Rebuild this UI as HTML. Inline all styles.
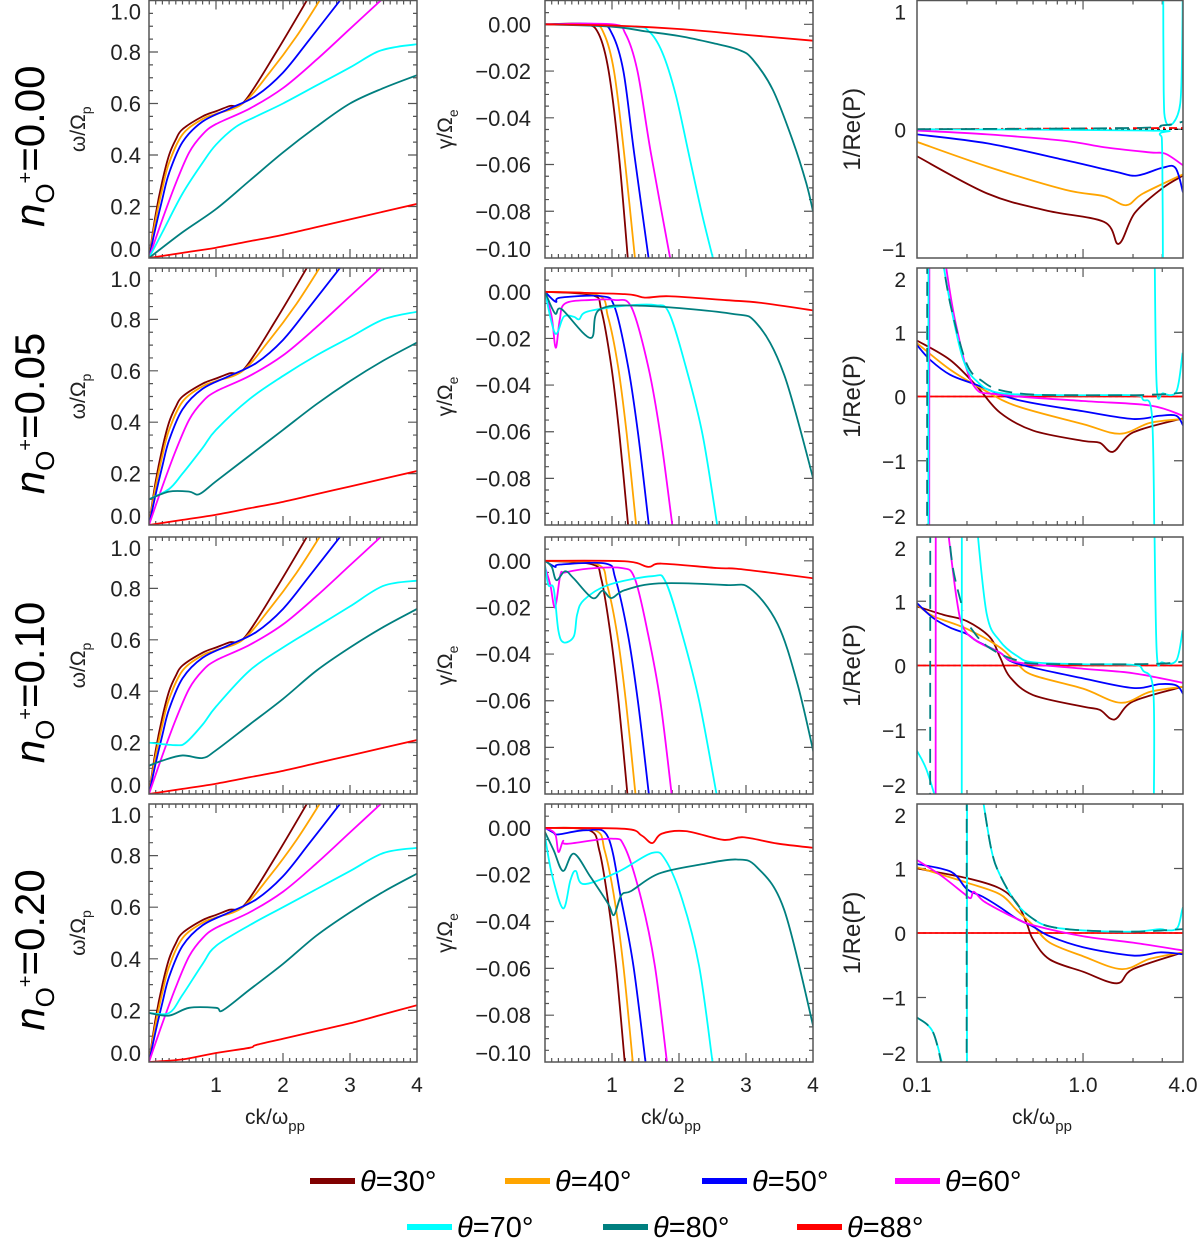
<!DOCTYPE html>
<html><head><meta charset="utf-8"><style>
html,body{margin:0;padding:0;background:#fff;}
svg{display:block;font-family:"Liberation Sans",sans-serif;}
</style></head><body>
<svg id="fig" width="1200" height="1240" viewBox="0 0 1200 1240" xmlns="http://www.w3.org/2000/svg"></svg>
<script>
// ---------- DATA ----------
const seriesLabels = ['θ=30°','θ=40°','θ=50°','θ=60°','θ=70°','θ=80°','θ=88°'];
const rowLabels = ['0.00','0.05','0.10','0.20'];
const colors = ['#800000','#ffa500','#0000ff','#ff00ff','#00ffff','#007f7f','#ff0000'];

// omega / Omega_p  (col 1), rows n=0.00,0.05,0.10,0.20 ; [k, value]
const omegaBrown = [[0,0],[0.1,0.17],[0.2,0.3],[0.3,0.4],[0.4,0.46],[0.5,0.5],[0.8,0.55],[1.0,0.57],[1.2,0.59],[1.43,0.61],[1.9,0.8],[2.4,1.02]];
const omegaOrange = [[0,0],[0.1,0.15],[0.2,0.27],[0.3,0.37],[0.5,0.48],[0.8,0.54],[1.0,0.56],[1.4,0.6],[1.8,0.72],[2.2,0.86],[2.57,1.01]];
const omegaBlue = [[0,0],[0.1,0.12],[0.2,0.23],[0.3,0.33],[0.5,0.45],[0.8,0.53],[1.2,0.58],[1.6,0.63],[2.0,0.72],[2.4,0.85],[2.88,1.01]];
const omegaMagenta = [[0,0],[0.2,0.15],[0.4,0.29],[0.6,0.41],[0.8,0.48],[1.0,0.52],[1.5,0.58],[2.0,0.66],[2.5,0.77],[3.0,0.89],[3.5,1.01]];
const omegaRed = [[0,0],[0.5,0.02],[1.0,0.04],[1.5,0.065],[2.0,0.09],[2.5,0.12],[3.0,0.15],[3.5,0.18],[4.0,0.21]];
const omegaRed4 = [[0,0],[0.5,0.01],[1.0,0.035],[1.5,0.055],[1.6,0.066],[2.0,0.09],[2.5,0.12],[3.0,0.15],[3.5,0.185],[4.0,0.22]];
const omegaCyan1 = [[0,0],[0.2,0.1],[0.5,0.25],[0.8,0.37],[1.0,0.44],[1.3,0.51],[1.6,0.55],[2.0,0.6],[2.5,0.67],[3.0,0.74],[3.4,0.8],[3.7,0.82],[4.0,0.83]];
const omegaCyan2 = [[0,0.1],[0.3,0.14],[0.5,0.2],[0.8,0.3],[1.0,0.37],[1.5,0.49],[2.0,0.58],[2.5,0.66],[3.0,0.73],[3.5,0.8],[4.0,0.83]];
const omegaCyan3 = [[0,0.2],[0.4,0.19],[0.55,0.2],[0.8,0.27],[1.0,0.34],[1.5,0.48],[2.0,0.57],[2.5,0.65],[3.0,0.73],[3.5,0.81],[4.0,0.83]];
const omegaCyan4 = [[0,0.19],[0.3,0.19],[0.5,0.26],[0.8,0.38],[1.0,0.45],[1.5,0.53],[2.0,0.6],[2.5,0.67],[3.0,0.74],[3.5,0.81],[4.0,0.83]];
const omegaTeal1 = [[0,0],[0.5,0.1],[1.0,0.19],[1.5,0.3],[2.0,0.41],[2.5,0.51],[3.0,0.6],[3.5,0.66],[4.0,0.71]];
const omegaTeal2 = [[0,0.1],[0.3,0.13],[0.6,0.13],[0.75,0.12],[1.0,0.17],[1.5,0.27],[2.0,0.37],[2.5,0.47],[3.0,0.56],[3.5,0.64],[4.0,0.71]];
const omegaTeal3 = [[0,0.11],[0.2,0.13],[0.5,0.15],[0.8,0.14],[1.0,0.17],[1.5,0.27],[2.0,0.37],[2.5,0.48],[3.0,0.57],[3.5,0.65],[4.0,0.72]];
const omegaTeal4 = [[0,0.19],[0.3,0.18],[0.6,0.21],[1.0,0.21],[1.1,0.2],[1.5,0.28],[2.0,0.38],[2.5,0.49],[3.0,0.58],[3.5,0.66],[4.0,0.73]];

// gamma / Omega_e (col 2)
const gammaRow1 = [
 [[0,0],[0.6,0],[0.8,-0.004],[0.95,-0.02],[1.1,-0.055],[1.25,-0.105]],
 [[0,0],[0.7,0],[0.88,-0.004],[1.03,-0.02],[1.18,-0.055],[1.36,-0.105]],
 [[0,0],[0.8,0],[1.0,-0.004],[1.17,-0.02],[1.33,-0.055],[1.57,-0.105]],
 [[0,0],[1.0,0],[1.2,-0.004],[1.38,-0.02],[1.58,-0.055],[1.9,-0.105]],
 [[0,0],[1.3,-0.001],[1.55,-0.003],[1.75,-0.012],[1.95,-0.03],[2.15,-0.056],[2.35,-0.082],[2.55,-0.105]],
 [[0,0],[1.0,-0.001],[1.5,-0.003],[2.0,-0.005],[2.5,-0.008],[2.9,-0.011],[3.1,-0.015],[3.4,-0.028],[3.7,-0.05],[3.9,-0.068],[4.0,-0.08]],
 [[0,0],[1.0,-0.0005],[2.0,-0.002],[3.0,-0.0045],[4.0,-0.007]]
];
const gammaRow2 = [
 [[0,0],[0.71,-0.0015],[0.84,-0.0078],[0.99,-0.032],[1.11,-0.061],[1.24,-0.1]],
 [[0,0],[0.79,-0.0015],[0.94,-0.0107],[1.09,-0.032],[1.22,-0.061],[1.36,-0.1]],
 [[0,0],[0.16,-0.0043],[0.23,-0.0025],[0.84,-0.0019],[1.04,-0.0066],[1.24,-0.032],[1.39,-0.061],[1.55,-0.1]],
 [[0,0],[0.1,-0.0107],[0.16,-0.024],[0.22,-0.012],[0.3,-0.005],[0.68,-0.0035],[1.04,-0.0035],[1.29,-0.0066],[1.54,-0.032],[1.72,-0.061],[1.9,-0.1]],
 [[0,0],[0.15,-0.0178],[0.28,-0.0107],[0.43,-0.0107],[0.51,-0.0118],[0.63,-0.0085],[1.19,-0.006],[1.65,-0.0057],[1.85,-0.009],[2.1,-0.032],[2.35,-0.061],[2.57,-0.1]],
 [[0,0],[0.15,-0.0093],[0.25,-0.0075],[0.68,-0.0198],[0.81,-0.0077],[1.44,-0.006],[2.76,-0.0093],[3.16,-0.0136],[3.57,-0.0356],[4.03,-0.083]],
 [[0,0],[1.19,-0.001],[1.49,-0.0025],[1.85,-0.0019],[2.71,-0.0036],[3.21,-0.0047],[4.03,-0.0081]]
];
const gammaRow3 = [
 [[0,0],[0.7,-0.0015],[0.84,-0.0078],[0.98,-0.032],[1.1,-0.061],[1.23,-0.1]],
 [[0,0],[0.78,-0.0015],[0.93,-0.0107],[1.08,-0.032],[1.21,-0.061],[1.35,-0.1]],
 [[0,0],[0.15,-0.0026],[0.23,-0.0016],[0.91,-0.0012],[1.05,-0.0076],[1.24,-0.032],[1.39,-0.061],[1.55,-0.1]],
 [[0,-0.0026],[0.08,-0.0104],[0.15,-0.02],[0.23,-0.006],[0.3,-0.005],[0.63,-0.0034],[1.14,-0.0031],[1.34,-0.0076],[1.54,-0.0317],[1.72,-0.06],[1.89,-0.1]],
 [[0,-0.002],[0.05,-0.0104],[0.13,-0.012],[0.2,-0.03],[0.28,-0.035],[0.43,-0.0324],[0.48,-0.023],[0.58,-0.0168],[0.94,-0.0104],[1.6,-0.0066],[1.8,-0.009],[2.05,-0.0317],[2.3,-0.06],[2.56,-0.1]],
 [[0,0],[0.1,-0.0026],[0.17,-0.0083],[0.3,-0.0045],[0.43,-0.0076],[0.71,-0.016],[0.86,-0.0128],[0.99,-0.016],[1.19,-0.0126],[1.7,-0.0097],[2.71,-0.0104],[3.06,-0.0118],[3.47,-0.027],[3.77,-0.053],[4.03,-0.085]],
 [[0,0],[1.19,-0.0002],[1.54,-0.0026],[1.74,-0.0012],[2.56,-0.0031],[2.86,-0.0034],[3.47,-0.0055],[4.03,-0.0076]]
];
const gammaRow4 = [
 [[0,0],[0.66,-0.001],[0.81,-0.0096],[0.94,-0.031],[1.06,-0.059],[1.19,-0.1]],
 [[0,0],[0.74,-0.001],[0.89,-0.0096],[1.04,-0.031],[1.17,-0.059],[1.31,-0.1]],
 [[0,0],[0.13,-0.0021],[0.2,-0.0028],[0.63,-0.001],[0.94,-0.0039],[1.14,-0.031],[1.32,-0.059],[1.5,-0.1]],
 [[0,0],[0.15,-0.0025],[0.2,-0.0103],[0.27,-0.0056],[0.33,-0.0068],[0.99,-0.0046],[1.19,-0.0082],[1.44,-0.0308],[1.64,-0.059],[1.82,-0.1]],
 [[0,-0.0035],[0.1,-0.0195],[0.27,-0.0344],[0.38,-0.0223],[0.46,-0.0184],[0.58,-0.024],[1.09,-0.0188],[1.6,-0.0107],[1.8,-0.0138],[2.05,-0.0308],[2.3,-0.059],[2.5,-0.1]],
 [[0,-0.0018],[0.13,-0.0096],[0.27,-0.0184],[0.43,-0.011],[0.68,-0.021],[0.94,-0.0323],[1.03,-0.0372],[1.14,-0.0287],[1.29,-0.0269],[1.7,-0.0195],[2.35,-0.0155],[2.86,-0.0135],[3.16,-0.0167],[3.57,-0.035],[4.03,-0.088]],
 [[0,0],[1.19,-0.0004],[1.44,-0.0032],[1.6,-0.0065],[1.74,-0.0025],[2.1,-0.0014],[2.66,-0.0051],[2.96,-0.004],[3.47,-0.0067],[4.03,-0.0086]]
];

// 1/Re(P) (col 3), log k; null = break
const polRow1 = [
 [[0.1,-0.21],[0.266,-0.5],[0.596,-0.63],[1.34,-0.72],[1.64,-0.89],[2.05,-0.65],[2.99,-0.46],[4.0,-0.36]],
 [[0.1,-0.098],[0.266,-0.29],[0.78,-0.47],[1.34,-0.52],[1.82,-0.59],[2.29,-0.5],[4.0,-0.35]],
 [[0.1,-0.04],[0.266,-0.11],[0.78,-0.24],[1.57,-0.33],[2.11,-0.36],[2.99,-0.3],[3.6,-0.3],[4.0,-0.49]],
 [[0.1,-0.01],[0.266,-0.04],[0.78,-0.09],[1.34,-0.14],[2.54,-0.18],[3.13,-0.19],[4.0,-0.28]],
 [[0.1,0],[2.5,-0.01],[2.9,-0.04],[3.0,-0.2],[3.03,-1.2],null,[3.04,1.2],[3.06,0.3],[3.15,0.06],[3.5,0.05],[3.85,0.2],[3.95,0.6],[3.99,1.2]],
 [[0.1,0],[2.0,0.01],[3.0,0.03],[3.5,0.04],[4.0,0.06]],
 [[0.1,0],[4.0,0.01]]
];
const polRow2 = [
 [[0.1,0.87],[0.158,0.57],[0.229,0.16],[0.316,-0.25],[0.5,-0.53],[1.0,-0.69],[1.26,-0.72],[1.52,-0.86],[2.0,-0.56],[4.0,-0.34]],
 [[0.1,0.83],[0.158,0.42],[0.25,0.11],[0.4,-0.15],[1.0,-0.43],[1.67,-0.58],[2.53,-0.41],[4.0,-0.35]],
 [[0.1,0.8],[0.12,0.57],[0.158,0.34],[0.229,0.18],[0.4,-0.05],[1.0,-0.23],[2.0,-0.35],[2.9,-0.3],[3.65,-0.3],[4.0,-0.45]],
 [[0.1185,-2.2],[0.1187,2.2],null,[0.148,2.2],[0.151,1.95],[0.173,1.08],[0.218,0.18],[0.316,0.03],[1.0,-0.07],[2.53,-0.14],[4.0,-0.3]],
 [[0.117,-2.2],[0.1172,2.2],null,[0.141,2.2],[0.16,1.4],[0.19,0.57],[0.229,0.24],[0.316,0.055],[0.79,0.02],[2.0,0.02],[2.3,-0.05],[2.6,-0.3],[2.69,-2.2],null,[2.7,2.2],[2.78,0.15],[3.03,0.05],[3.65,0.08],[3.98,0.68]],
 [[0.115,-2.2],[0.1152,2.2],null,[0.141,2.2],[0.16,1.4],[0.2,0.5],[0.25,0.23],[0.316,0.1],[0.5,0.03],[1.0,0.02],[2.0,0.02],[2.68,0.03],[3.3,0.04],[4.0,0.06]],
 [[0.1,0],[4.0,0]]
];
const polRow3 = [
 [[0.1,0.92],[0.144,0.79],[0.2,0.69],[0.275,0.44],[0.316,0.13],[0.363,-0.18],[0.5,-0.46],[1.0,-0.64],[1.26,-0.69],[1.55,-0.84],[2.0,-0.56],[4.0,-0.33]],
 [[0.1,0.95],[0.125,0.77],[0.2,0.57],[0.316,0.28],[0.4,0.03],[0.5,-0.15],[1.0,-0.36],[1.69,-0.58],[2.53,-0.41],[4.0,-0.33]],
 [[0.1,0.97],[0.125,0.74],[0.158,0.59],[0.2,0.49],[0.229,0.38],[0.316,0.2],[0.4,0.03],[1.0,-0.2],[2.0,-0.35],[2.9,-0.29],[3.65,-0.31],[4.0,-0.44]],
 [[0.1295,-2.2],[0.1297,2.2],null,[0.152,2.2],[0.173,1.05],[0.19,0.59],[0.229,0.38],[0.316,0.2],[0.4,0.05],[1.0,-0.05],[2.0,-0.12],[4.0,-0.27]],
 [[0.1,-1.33],[0.114,-1.62],[0.134,-2.2],null,[0.186,-2.2],[0.1862,2.2],null,[0.229,2.2],[0.263,0.8],[0.316,0.38],[0.4,0.15],[0.5,0.05],[1.0,0.02],[2.0,0.01],[2.3,-0.08],[2.65,-0.4],[2.67,-2.2],null,[2.69,2.2],[2.78,0.2],[3.0,0.05],[3.65,0.08],[3.98,0.55]],
 [[0.12,-2.2],[0.1202,2.2],null,[0.154,2.2],[0.165,1.5],[0.19,0.85],null,[0.21,0.59],[0.25,0.35],[0.316,0.18],[0.4,0.08],[0.5,0.03],[1.0,0.02],[2.0,0.02],[3.0,0.03],[4.0,0.06]],
 [[0.1,0],[4.0,0]]
];
const polRow4 = [
 [[0.1,1.0],[0.2,0.85],[0.316,0.69],[0.4,0.46],[0.458,0.15],[0.5,-0.1],[0.63,-0.41],[1.0,-0.6],[1.6,-0.78],[2.0,-0.56],[4.0,-0.3]],
 [[0.1,1.02],[0.2,0.78],[0.316,0.6],[0.4,0.35],[0.5,0.12],[0.63,-0.15],[1.0,-0.36],[1.71,-0.56],[2.53,-0.4],[4.0,-0.3]],
 [[0.1,1.07],[0.16,0.95],[0.2,0.68],[0.25,0.56],[0.316,0.4],[0.4,0.22],[0.5,0.1],[0.63,-0.05],[1.0,-0.22],[2.0,-0.35],[2.9,-0.3],[4.0,-0.33]],
 [[0.1,1.13],[0.138,0.9],[0.19,0.62],[0.21,0.54],[0.22,0.64],[0.25,0.5],[0.316,0.35],[0.4,0.22],[0.5,0.12],[1.0,-0.05],[2.0,-0.15],[4.0,-0.27]],
 [[0.1,-1.31],[0.125,-1.54],[0.147,-2.2],null,[0.2,-2.2],[0.2002,2.2],null,[0.245,2.2],[0.28,1.3],[0.316,0.9],[0.4,0.45],[0.5,0.22],[0.63,0.1],[1.0,0.04],[2.0,0.02],[2.9,0.06],[3.2,0.04],[3.7,0.08],[3.95,0.35],[4.0,0.4]],
 [[0.1,-1.31],[0.125,-1.54],[0.145,-2.2],null,[0.199,-2.2],[0.1992,2.2],null,[0.245,2.2],[0.28,1.3],[0.316,0.9],[0.4,0.45],[0.5,0.22],[0.63,0.1],[1.0,0.04],[2.0,0.02],[3.0,0.04],[4.0,0.06]],
 [[0.1,0],[4.0,0]]
];

const omegaRows = [
 [omegaBrown,omegaOrange,omegaBlue,omegaMagenta,omegaCyan1,omegaTeal1,omegaRed],
 [omegaBrown,omegaOrange,omegaBlue,omegaMagenta,omegaCyan2,omegaTeal2,omegaRed],
 [omegaBrown,omegaOrange,omegaBlue,omegaMagenta,omegaCyan3,omegaTeal3,omegaRed],
 [omegaBrown,omegaOrange,omegaBlue,omegaMagenta,omegaCyan4,omegaTeal4,omegaRed4]
];
const gammaRows = [gammaRow1,gammaRow2,gammaRow3,gammaRow4];
const polRows = [polRow1,polRow2,polRow3,polRow4];

const omegaTicks = [0,0.2,0.4,0.6,0.8,1.0];
const omegaTickLabels = ['0.0','0.2','0.4','0.6','0.8','1.0'];
const gammaTicks = [0,-0.02,-0.04,-0.06,-0.08,-0.10];
const gammaTickLabels = ['0.00','\u22120.02','\u22120.04','\u22120.06','\u22120.08','\u22120.10'];
const linXTicks = [1,2,3,4];
const linXTickLabels = ['1','2','3','4'];
const logXTicks = [0.1,1.0,4.0];
const logXTickLabels = ['0.1','1.0','4.0'];

// ---------- LAYOUT ----------
const NS='http://www.w3.org/2000/svg';
const svg=document.getElementById('fig');
const cols=[{x0:149,x1:417},{x0:545,x1:813},{x0:917,x1:1183}];
const rows=[{y0:0.5,y1:258},{y0:268,y1:525},{y0:537,y1:794},{y0:804,y1:1062}];
function el(tag,parent){const e=document.createElementNS(NS,tag);(parent||svg).appendChild(e);return e;}
function attrs(e,o){for(const k in o)e.setAttribute(k,o[k]);return e;}
function smooth(p){
  if(p.length<3) return 'M'+p.map(q=>q[0].toFixed(2)+','+q[1].toFixed(2)).join('L');
  let d='M'+p[0][0].toFixed(2)+','+p[0][1].toFixed(2);
  for(let i=0;i<p.length-1;i++){
    const p0=p[i-1]||p[i],p1=p[i],p2=p[i+1],p3=p[i+2]||p[i+1];
    const c1=[p1[0]+(p2[0]-p0[0])/6,p1[1]+(p2[1]-p0[1])/6];
    const c2=[p2[0]-(p3[0]-p1[0])/6,p2[1]-(p3[1]-p1[1])/6];
    d+='C'+c1.map(v=>v.toFixed(2)).join(',')+' '+c2.map(v=>v.toFixed(2)).join(',')+' '+p2[0].toFixed(2)+','+p2[1].toFixed(2);
  }
  return d;
}
function seriesPath(data,sx,sy){
  let segs=[],cur=[];
  data.forEach(pt=>{ if(pt===null){ if(cur.length)segs.push(cur); cur=[]; } else cur.push([sx(pt[0]),sy(pt[1])]); });
  if(cur.length)segs.push(cur);
  return segs.map(smooth).join(' ');
}
const defs=el('defs');

for(let r=0;r<4;r++){
  const R=rows[r];
  for(let c=0;c<3;c++){
    const C=cols[c];
    const g=el('g');
    
    
    let sx,sy,ymin,ymax;
    if(c<2){ sx=k=>C.x0+(k/4)*(C.x1-C.x0); }
    else { sx=k=>C.x0+(Math.log10(k)-Math.log10(0.1))/(Math.log10(4)-Math.log10(0.1))*(C.x1-C.x0); }
    if(c===0){ymin=0;ymax=1;} else if(c===1){ymin=-0.10;ymax=0.0102;} else if(r===0){ymin=-1;ymax=1;} else {ymin=-2;ymax=2;}
    sy=v=>R.y1-(v-ymin)/(ymax-ymin)*(R.y1-R.y0);
    const cp=attrs(el('clipPath',defs),{id:'cp'+r+c});
    attrs(el('rect',cp),{x:C.x0,y:R.y0,width:C.x1-C.x0,height:R.y1-R.y0});
    const tk=el('g',g);
    
    
    let tp='';
    const xT=(x,L)=>{tp+=`M${x},${R.y1}v${-L}M${x},${R.y0}v${L}`;};
    const yT=(y,L)=>{tp+=`M${C.x0},${y}h${L}M${C.x1},${y}h${-L}`;};
    if(c<2){ for(let i=1;i<40;i++){const k=i/10;xT(sx(k),(i%10===0)?9:4);} }
    else { [0.2,0.3,0.4,0.5,0.6,0.7,0.8,0.9,2,3].forEach(k=>xT(sx(k),4)); [1].forEach(k=>xT(sx(k),9)); }
    if(c===0){ for(let i=1;i<20;i++){const v=i*0.05;yT(sy(v),(i%4===0)?9:4);} }
    else if(c===1){ for(let i=1;i<22;i++){const v=0.01-i*0.005; if(v<-0.1)break; const m=Math.abs(Math.round(v*1000))%20===0; yT(sy(v),m?9:4);} }
    else { for(let v=ymin+1;v<ymax;v++) yT(sy(v),9); }
    attrs(el('path',tk),{d:tp,stroke:'#555','stroke-width':1.2,fill:'none'});
    const sg=el('g',g); sg.setAttribute('clip-path',`url(#cp${r}${c})`);
    
    
    if(c===2){
      const z=el('path',sg);
      
      
      attrs(z,{d:`M${C.x0},${sy(0)}H${C.x1}`,stroke:'#000','stroke-width':1.3,'stroke-dasharray':'3,3',fill:'none'});
    }
    const data = c===0?omegaRows[r]:(c===1?gammaRows[r]:polRows[r]);
    const order = c===2?[6,0,1,2,3,4,5]:[0,1,2,3,4,5,6];
    order.forEach(i=>{
      const p=el('path',sg);
      
      
      const a={d:seriesPath(data[i],sx,sy),stroke:colors[i],'stroke-width':1.8,fill:'none','stroke-linejoin':'round'};
      if(c===2&&i===5)a['stroke-dasharray']='14,8';
      if(c===2&&r===0&&i===6)a['stroke-dasharray']='8,4,2,4';
      attrs(p,a);
    });
    const fr=el('rect',g);
    
    
    attrs(fr,{x:C.x0,y:R.y0,width:C.x1-C.x0,height:R.y1-R.y0,fill:'none',stroke:'#555','stroke-width':1.5});
    let yt,yl;
    if(c===0){yt=omegaTicks;yl=omegaTickLabels;} else if(c===1){yt=gammaTicks;yl=gammaTickLabels;}
    else if(r===0){yt=[-1,0,1];yl=['\u22121','0','1'];} else {yt=[-2,-1,0,1,2];yl=['\u22122','\u22121','0','1','2'];}
    const lx=c===0?141:(c===1?531:906);
    yt.forEach((v,j)=>{
      let y=sy(v)+8; y=Math.max(R.y0+19,Math.min(R.y1-1,y));
      const t=el('text',g);
      
      
      attrs(t,{x:lx,y:y,'text-anchor':'end','font-size':c===2?21:22,fill:'#222'});
      t.textContent=yl[j];
    });
    const yt2=el('text',g);
    
    
    const cy=(R.y0+R.y1)/2, tx=c===0?85:(c===1?452:860);
    attrs(yt2,{x:tx,y:cy,transform:`rotate(-90 ${tx} ${cy})`,'text-anchor':'middle','font-size':c===2?24:21,fill:'#222'});
    if(c===0) yt2.innerHTML='ω/Ω<tspan font-size="14" dy="6">p</tspan>';
    else if(c===1) yt2.innerHTML='γ/Ω<tspan font-size="14" dy="6">e</tspan>';
    else yt2.textContent='1/Re(P)';
    if(r===3){
      const xt=c<2?linXTicks:logXTicks, xl=c<2?linXTickLabels:logXTickLabels;
      xt.forEach((k,j)=>{
        const t=el('text',g);
        
        
        attrs(t,{x:sx(k),y:1092,'text-anchor':'middle','font-size':21,fill:'#222'});
        t.textContent=xl[j];
      });
      const xt2=el('text',g);
      
      
      attrs(xt2,{x:(C.x0+C.x1)/2-8,y:1124,'text-anchor':'middle','font-size':21,fill:'#222'});
      xt2.innerHTML='ck/ω<tspan font-size="15" dy="7">pp</tspan>';
    }
  }
  const cy=(rows[r].y0+rows[r].y1)/2+17;
  const rl=el('text');
  
  
  attrs(rl,{x:44,y:cy,transform:`rotate(-90 44 ${cy})`,'text-anchor':'middle','font-size':42,fill:'#000'});
  rl.innerHTML='<tspan font-style="italic">n</tspan><tspan font-size="26" dy="10">O</tspan><tspan font-size="20" dy="-22">+</tspan><tspan dy="12">='+rowLabels[r]+'</tspan>';
}

const legPos=[[310,1181],[505,1181],[702,1181],[895,1181],[407,1227],[603,1227],[797,1227]];
legPos.forEach((p,i)=>{
  const g=el('g');
  
  
  attrs(el('line',g),{x1:p[0],y1:p[1],x2:p[0]+45,y2:p[1],stroke:colors[i],'stroke-width':6});
  const t=el('text',g);
  attrs(t,{x:p[0]+50,y:p[1]+10,'font-size':29,fill:'#000'});
  t.innerHTML='<tspan font-style="italic">θ</tspan>'+seriesLabels[i].slice(1);
});
</script>
</body></html>
